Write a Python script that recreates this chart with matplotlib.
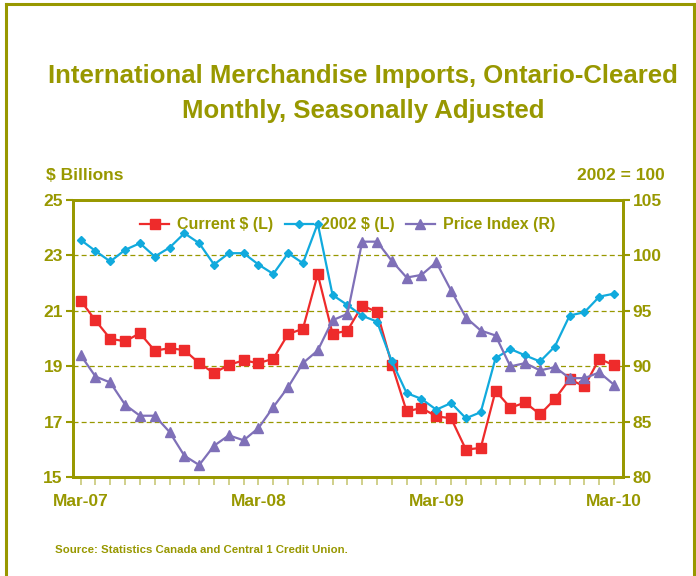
import matplotlib
matplotlib.use("Agg")
import matplotlib.pyplot as plt
from matplotlib.lines import Line2D

months = ["Mar-07","Apr-07","May-07","Jun-07","Jul-07","Aug-07","Sep-07","Oct-07","Nov-07","Dec-07",
          "Jan-08","Feb-08","Mar-08","Apr-08","May-08","Jun-08","Jul-08","Aug-08","Sep-08","Oct-08",
          "Nov-08","Dec-08","Jan-09","Feb-09","Mar-09","Apr-09","May-09","Jun-09","Jul-09","Aug-09",
          "Sep-09","Oct-09","Nov-09","Dec-09","Jan-10","Feb-10","Mar-10"]

current = [21.37, 20.65, 19.99, 19.90, 20.19, 19.56, 19.65, 19.58, 19.11, 18.75,
           19.05, 19.21, 19.11, 19.27, 20.16, 20.35, 22.32, 20.17, 20.28, 21.19,
           20.96, 19.06, 17.37, 17.49, 17.19, 17.12, 15.99, 16.05, 18.11, 17.50,
           17.69, 17.26, 17.81, 18.53, 18.27, 19.27, 19.03]

real2002 = [23.56, 23.16, 22.78, 23.20, 23.44, 22.96, 23.28, 23.80, 23.44, 22.67,
            23.08, 23.08, 22.67, 22.33, 23.08, 22.72, 24.15, 21.57, 21.21, 20.82,
            20.61, 19.17, 18.03, 17.82, 17.43, 17.67, 17.12, 17.34, 19.29, 19.62,
            19.39, 19.17, 19.71, 20.83, 20.95, 21.51, 21.62]

price_index = [91.0, 89.07, 88.53, 86.52, 85.53, 85.53, 84.06, 81.92, 81.08, 82.82,
               83.76, 83.31, 84.42, 86.31, 88.11, 90.28, 91.42, 94.15, 94.72, 101.24,
               101.24, 99.50, 98.00, 98.24, 99.38, 96.83, 94.39, 93.22, 92.77, 89.98,
               90.28, 89.62, 89.92, 88.92, 88.92, 89.44, 88.32]

left_ticks = [15, 17, 19, 21, 23, 25]
right_ticks = [80, 85, 90, 95, 100, 105]
xlabel_idx = [0, 12, 24, 36]

OLIVE = "#989800"
TICKC = "#C8C878"
RED = "#EE2B2B"
CYAN = "#11AADD"
PURPLE = "#7F70B8"

FONT = ["Liberation Sans", "DejaVu Sans"]
plt.rcParams["font.family"] = FONT
plt.rcParams["font.weight"] = "bold"

fig = plt.figure(figsize=(6.96, 5.76), dpi=100)
fig.patch.set_facecolor("white")

# outer frame (left, top, right)
fig.add_artist(Line2D([6/696, 6/696], [0, 1-4/576], transform=fig.transFigure, color=OLIVE, lw=2.2))
fig.add_artist(Line2D([6/696, 694/696], [1-4/576, 1-4/576], transform=fig.transFigure, color=OLIVE, lw=2.2))
fig.add_artist(Line2D([694/696, 694/696], [0, 1-4/576], transform=fig.transFigure, color=OLIVE, lw=2.2))

ax = fig.add_axes([72.5/696, 1-477/576, (623-72.5)/696, 277/576])
ax2 = ax.twinx()

x = list(range(len(months)))
ax.plot(x, current, color=RED, lw=1.6, marker="s", ms=7, label="Current $ (L)", zorder=4)
ax.plot(x, real2002, color=CYAN, lw=1.6, marker="D", ms=4, label="2002 $ (L)", zorder=4)
ax2.plot(x, price_index, color=PURPLE, lw=1.6, marker="^", ms=6.5, label="Price Index (R)", zorder=4)

ax.set_xlim(-0.55, 36.6)
ax.set_ylim(15, 25)
ax2.set_ylim(80, 105)

for g in [17, 19, 21, 23]:
    ax.axhline(g, color=OLIVE, lw=0.9, ls=(0, (4, 2.5)), zorder=1)

ax.set_yticks(left_ticks)
ax.set_yticklabels([str(v) for v in left_ticks])
ax2.set_yticks(right_ticks)
ax2.set_yticklabels([str(v) for v in right_ticks])

ax.set_xticks(x, minor=True)
ax.set_xticks(xlabel_idx)
ax.set_xticklabels([months[i] for i in xlabel_idx])
ax.tick_params(axis="x", which="both", direction="out", length=6, width=1.2, color=TICKC,
               labelsize=12.5, labelcolor=OLIVE, pad=6)
ax.tick_params(axis="y", direction="out", length=5, width=1.5, color=OLIVE,
               labelsize=12.5, labelcolor=OLIVE, pad=2)
ax2.tick_params(axis="y", direction="out", length=5, width=1.5, color=OLIVE,
                labelsize=12.5, labelcolor=OLIVE, pad=2)

for a in (ax, ax2):
    for s in a.spines.values():
        s.set_color(OLIVE)
        s.set_linewidth(2)

h1, l1 = ax.get_legend_handles_labels()
h2, l2 = ax2.get_legend_handles_labels()
leg = ax2.legend(h1 + h2, l1 + l2, loc="upper center", ncol=3, frameon=False,
                 bbox_to_anchor=(0.5, 0.99), fontsize=11.5, handlelength=1.8,
                 columnspacing=0.7, handletextpad=0.5)
for t in leg.get_texts():
    t.set_color(OLIVE)
    t.set_fontweight("bold")

fig.text(363/696, 1-83/576, "International Merchandise Imports, Ontario-Cleared",
         ha="center", va="baseline", fontsize=18.5, color=OLIVE, fontweight="bold")
fig.text(363/696, 1-118/576, "Monthly, Seasonally Adjusted",
         ha="center", va="baseline", fontsize=18.5, color=OLIVE, fontweight="bold")
fig.text(46/696, 1-180/576, "$ Billions", ha="left", va="baseline", fontsize=12.5,
         color=OLIVE, fontweight="bold")
fig.text(665/696, 1-180/576, "2002 = 100", ha="right", va="baseline", fontsize=12.5,
         color=OLIVE, fontweight="bold")
fig.text(55/696, 1-553/576, "Source: Statistics Canada and Central 1 Credit Union.",
         ha="left", va="baseline", fontsize=8.2, color=OLIVE, fontweight="bold")

fig.savefig("out.png", dpi=100, facecolor="white")
